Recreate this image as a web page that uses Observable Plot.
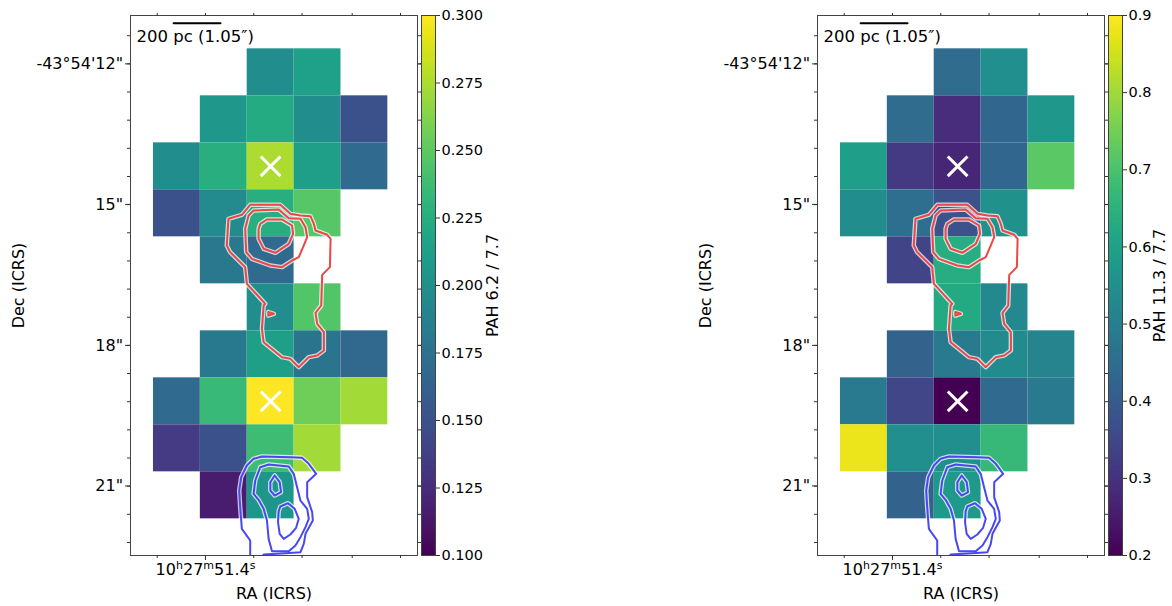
<!DOCTYPE html>
<html><head><meta charset="utf-8">
<script src="https://cdn.jsdelivr.net/npm/d3@7"></script>
<script src="https://cdn.jsdelivr.net/npm/@observablehq/plot@0.6"></script>
<style>
html,body{margin:0;padding:0;background:#fff;overflow:hidden}
#fig{position:relative;width:1172px;height:606px;background:#fff}
#fig svg{position:absolute;top:0;overflow:visible}
</style></head>
<body><div id="fig"></div>
<script>
// ---- pixel footprint (row from top, column from left) ----
const cellRow = [0,0, 1,1,1,1, 2,2,2,2,2, 3,3,3,3, 4,4, 5,5, 6,6,6,6, 7,7,7,7,7, 8,8,8,8, 9,9];
const cellCol = [2,3, 1,2,3,4, 0,1,2,3,4, 0,1,2,3, 1,2, 2,3, 1,2,3,4, 0,1,2,3,4, 0,1,2,3, 1,2];

// ---- PAH ratios per pixel ----
const pah62_77 = [0.198,0.213, 0.207,0.222,0.198,0.150, 0.198,0.226,0.275,0.212,0.168,
  0.150,0.195,0.226,0.247, 0.180,0.168, 0.197,0.246, 0.181,0.212,0.177,0.167,
  0.168,0.235,0.300,0.256,0.272, 0.135,0.150,0.238,0.272, 0.115,0.205];
const pah113_77 = [0.445,0.545, 0.445,0.290,0.430,0.570, 0.590,0.320,0.275,0.430,0.720,
  0.540,0.450,0.375,0.550, 0.340,0.635, 0.625,0.530, 0.420,0.485,0.535,0.515,
  0.485,0.345,0.200,0.440,0.485, 0.880,0.545,0.545,0.670, 0.420,0.580];

// ---- nuclei markers (row, col) ----
const crossRow = [2, 7];
const crossCol = [2, 2];

// ---- contours (pixel-grid coordinates) ----
const redContours = [
  [[1.886,3.532],[2.064,3.319],[2.707,3.319],[2.921,3.511],[3.136,3.546],[3.35,3.56],[3.421,3.723],[3.457,3.865],[3.707,3.957],[3.779,4.043],[3.764,4.645],[3.6,4.809],[3.579,5.461],[3.457,5.617],[3.493,5.851],[3.636,6.028],[3.636,6.418],[3.493,6.525],[3.314,6.56],[3.1,6.773],[2.921,6.596],[2.743,6.56],[2.35,6.241],[2.314,5.957],[2.35,5.461],[2.386,5.426],[1.993,5.0],[1.957,4.645],[1.636,4.326],[1.564,4.184],[1.6,3.617]],
  [[2.029,3.546],[2.136,3.44],[2.671,3.418],[2.886,3.603],[3.136,3.617],[3.243,3.794],[3.279,4.007],[3.207,4.184],[3.1,4.433],[2.957,4.504],[2.743,4.645],[2.493,4.61],[2.1,4.468],[1.979,4.326],[1.957,3.83]],
  [[2.279,3.723],[2.421,3.631],[2.743,3.631],[2.957,3.759],[2.979,3.936],[2.886,4.149],[2.6,4.34],[2.35,4.255],[2.243,4.043],[2.243,3.83]],
  [[2.45,5.6],[2.57,5.638],[2.45,5.676]]
];
const redClosed = [true, true, true, true];
const blueContours = [
  [[2.064,10.85],[2.064,10.461],[1.886,10.213],[1.85,9.752],[1.829,9.397],[1.871,9.113],[1.993,8.865],[2.136,8.723],[2.314,8.674],[2.921,8.688],[3.171,8.702],[3.314,8.83],[3.471,9.043],[3.279,9.22],[3.279,9.539],[3.386,9.858],[3.4,10.035],[3.243,10.319],[3.207,10.532],[3.136,10.709],[2.814,10.73],[2.35,10.759],[2.3,10.85]],
  [[2.279,8.901],[2.457,8.844],[2.886,8.887],[2.993,9.043],[3.064,9.326],[3.136,9.61],[3.279,9.787],[3.314,10.0],[3.243,10.177],[3.136,10.39],[3.029,10.567],[2.886,10.688],[2.529,10.688],[2.457,10.426],[2.421,10.035],[2.35,9.787],[2.243,9.596],[2.136,9.468],[2.171,9.184]],
  [[2.707,9.738],[2.871,9.667],[3.014,9.787],[3.1,10.0],[3.043,10.191],[2.921,10.333],[2.779,10.426],[2.693,10.319],[2.657,10.071],[2.671,9.837]],
  [[2.586,9.078],[2.693,9.22],[2.721,9.433],[2.586,9.504],[2.493,9.397],[2.493,9.22]]
];
const blueClosed = [false, true, true, true];

// ---- axes ----
const decMajor = [0.32, 3.31, 6.31, 9.30];
const decLabels = ["-43°54'12\"", "15\"", "18\"", "21\""];
const raTicks = [0.08, 1.11, 2.14, 3.17, 4.24, 5.27];
const raMajor = [1.11];
const raParts = [["10", "h"], ["27", "m"], ["51.4", "s"]];
const raLabel = raParts.map(p => p.join("")).join("");
const scaleBarX = [0.43, 1.43];
const scaleBarY = -0.545;
const scaleBarText = "200 pc (1.05″)";

const decMinor = d3.range(-1, 18).map(k => 0.32 + k * 0.599);
const xDomain = [-0.49, 5.633];
const yDomain = [-0.709, 10.78];
const FONT = "DejaVu Sans, sans-serif";

function toRows(sets, closed) {
  return sets.flatMap((pts, id) => {
    const p = closed[id] ? [...pts, pts[0]] : pts;
    return p.map(([x, y]) => ({id, x, y}));
  });
}
const redRows = toRows(redContours, redClosed);
const blueRows = toRows(blueContours, blueClosed);

function superscriptRA(svg) {
  const ns = "http://www.w3.org/2000/svg";
  for (const t of svg.querySelectorAll("text")) {
    if (t.textContent === raLabel) {
      t.textContent = "";
      for (const [num, unit] of raParts) {
        const a = document.createElementNS(ns, "tspan");
        a.textContent = num;
        const b = document.createElementNS(ns, "tspan");
        b.textContent = unit;
        b.setAttribute("baseline-shift", "super");
        b.setAttribute("font-size", "11px");
        t.append(a, b);
      }
    }
  }
}

function panel({values, domain, cbTicks, cbFormat, cbLabel, cbLabelDx, offset}) {
  const cells = values.map((v, i) => ({row: cellRow[i], col: cellCol[i], v}));
  const crosses = crossRow.map((r, i) => ({x: crossCol[i] + 0.5, y: r + 0.5}));
  const color = {type: "linear", scheme: "viridis", domain};
  const blank = () => "";
  const tk = {stroke: "#333", label: null};
  const main = Plot.plot({
    width: 420, height: 606, marginLeft: 130, marginRight: 3, marginTop: 15, marginBottom: 51,
    x: {domain: xDomain, label: null},
    y: {domain: yDomain, reverse: true, label: null},
    color,
    style: {fontFamily: FONT, fontSize: "16px", color: "#000", background: "transparent", overflow: "visible"},
    marks: [
      Plot.rect(cells, {x1: "col", x2: d => d.col + 1, y1: "row", y2: d => d.row + 1, fill: "v"}),
      Plot.line(redRows, {x: "x", y: "y", z: "id", stroke: "white", strokeWidth: 4.5, strokeOpacity: 0.75, clip: true}),
      Plot.line(redRows, {x: "x", y: "y", z: "id", stroke: "#ee4646", strokeWidth: 2, clip: true}),
      Plot.line(blueRows, {x: "x", y: "y", z: "id", stroke: "white", strokeWidth: 4.5, strokeOpacity: 0.75, clip: true}),
      Plot.line(blueRows, {x: "x", y: "y", z: "id", stroke: "#4848f2", strokeWidth: 2, clip: true}),
      Plot.dot(crosses, {x: "x", y: "y", symbol: "times", r: 9, stroke: "white", strokeWidth: 3}),
      Plot.line(scaleBarX.map(x => ({x, y: scaleBarY})), {x: "x", y: "y", stroke: "black", strokeWidth: 2}),
      Plot.text([scaleBarText], {text: d => d, x: d3.mean(scaleBarX) - 0.04, y: -0.26, fontSize: 16.5, textAnchor: "middle", fill: "black"}),
      Plot.frame({stroke: "#444"}),
      Plot.axisY({...tk, ticks: decMinor, anchor: "left", tickSize: 3, tickFormat: blank}),
      Plot.axisY({...tk, ticks: decMinor, anchor: "right", tickSize: 3, tickFormat: blank}),
      Plot.axisY({...tk, ticks: decMajor, anchor: "left", tickSize: 5, tickPadding: 2.5, fontSize: 16,
        tickFormat: d => decLabels[decMajor.indexOf(d)]}),
      Plot.axisY({...tk, ticks: decMajor, anchor: "right", tickSize: 5, tickFormat: blank}),
      Plot.axisX({...tk, ticks: raTicks, anchor: "bottom", tickSize: 3, tickFormat: blank}),
      Plot.axisX({...tk, ticks: raTicks, anchor: "top", tickSize: 3, tickFormat: blank}),
      Plot.axisX({...tk, ticks: raMajor, anchor: "bottom", tickSize: 5, tickPadding: 3, fontSize: 16, tickFormat: () => raLabel}),
      Plot.text(["Dec (ICRS)"], {text: d => d, frameAnchor: "left", dx: -112, rotate: -90, textAnchor: "middle", lineAnchor: "middle", fontSize: 16, fill: "black"}),
      Plot.text(["RA (ICRS)"], {text: d => d, frameAnchor: "bottom", dy: 38, textAnchor: "middle", lineAnchor: "middle", fontSize: 16, fill: "black"})
    ]
  });
  superscriptRA(main);
  main.style.left = offset + "px";

  const cb = Plot.plot({
    width: 90, height: 606, marginLeft: 1, marginRight: 75, marginTop: 15, marginBottom: 51,
    x: {domain: [0, 1], axis: null},
    y: {domain, label: null},
    color,
    style: {fontFamily: FONT, fontSize: "14px", color: "#000", background: "transparent", overflow: "visible"},
    marks: [
      Plot.raster({x1: 0, x2: 1, y1: domain[0], y2: domain[1], width: 1, height: 300, fill: (x, y) => y, imageRendering: "auto"}),
      Plot.frame({stroke: "#444"}),
      Plot.axisY({ticks: cbTicks, anchor: "right", tickSize: 4, tickPadding: 2, tickFormat: cbFormat, fontSize: 14.5, label: null, stroke: "#333"}),
      Plot.text([cbLabel], {text: d => d, frameAnchor: "right", dx: cbLabelDx, rotate: -90, textAnchor: "middle", lineAnchor: "middle", fontSize: 16, fill: "black"})
    ]
  });
  cb.style.left = (offset + 420) + "px";
  const fig = document.getElementById("fig");
  fig.appendChild(main);
  fig.appendChild(cb);
}

panel({values: pah62_77, domain: [0.1, 0.3], cbTicks: [0.1, 0.125, 0.15, 0.175, 0.2, 0.225, 0.25, 0.275, 0.3],
  cbFormat: ".3f", cbLabel: "PAH 6.2 / 7.7", cbLabelDx: 57, offset: 0});
panel({values: pah113_77, domain: [0.2, 0.9], cbTicks: [0.2, 0.3, 0.4, 0.5, 0.6, 0.7, 0.8, 0.9],
  cbFormat: ".1f", cbLabel: "PAH 11.3 / 7.7", cbLabelDx: 37, offset: 687});
</script>
</body></html>
